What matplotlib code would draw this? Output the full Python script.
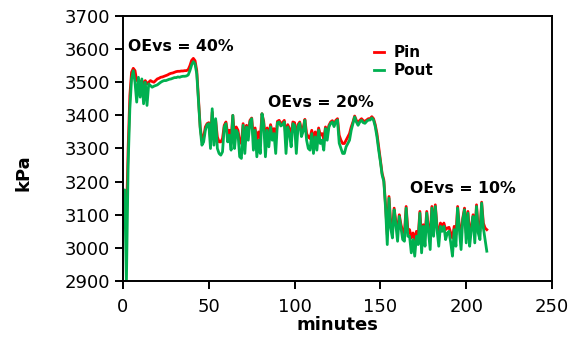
import matplotlib
matplotlib.use('Agg')
import matplotlib.pyplot as plt

# time in minutes (one reading per minute)
minutes = list(range(0, 213))

# inlet pressure, kPa
pin = [3060, 3065, 3080, 3300, 3460, 3530, 3542, 3535, 3505, 3505,
       3500, 3505, 3495, 3505, 3495, 3500, 3505, 3502, 3500, 3505,
       3510, 3512, 3515, 3516, 3518, 3520, 3522, 3525, 3527, 3528,
       3530, 3532, 3533, 3533, 3534, 3534, 3535, 3535, 3538, 3550,
       3566, 3572, 3565, 3535, 3450, 3365, 3325, 3335, 3365, 3375,
       3378, 3330, 3410, 3340, 3385, 3335, 3320, 3320, 3330, 3370,
       3380, 3345, 3355, 3330, 3400, 3335, 3365, 3355, 3320, 3315,
       3375, 3325, 3370, 3350, 3385, 3392, 3335, 3362, 3325, 3350,
       3330, 3405, 3382, 3325, 3362, 3340, 3372, 3350, 3360, 3330,
       3382, 3385, 3375, 3378, 3385, 3330, 3372, 3360, 3340, 3380,
       3378, 3330, 3372, 3380, 3355, 3362, 3388, 3345, 3335, 3330,
       3355, 3325, 3350, 3330, 3362, 3340, 3345, 3330, 3365, 3345,
       3370, 3380, 3384, 3372, 3385, 3390, 3340, 3325, 3315, 3315,
       3325, 3335, 3345, 3365, 3380, 3398, 3385, 3378, 3385, 3390,
       3384, 3382, 3386, 3390, 3390, 3396, 3390, 3372, 3345, 3305,
       3265, 3225, 3205, 3130, 3040, 3155, 3075, 3055, 3120, 3080,
       3050, 3100, 3070, 3050, 3045, 3125, 3055, 3055, 3030, 3045,
       3025, 3050, 3035, 3110, 3030, 3070, 3040, 3110, 3060, 3035,
       3125, 3055, 3130, 3065, 3045, 3075, 3065, 3075, 3055, 3060,
       3062, 3045, 3030, 3065, 3040, 3125, 3065, 3040, 3090, 3120,
       3045, 3110, 3040, 3065, 3100, 3045, 3130, 3060, 3050, 3138,
       3075, 3060, 3055]

# outlet pressure, kPa
pout = [3070, 3175, 2895, 3250, 3420, 3510, 3535, 3500, 3440, 3515,
        3455, 3510, 3435, 3500, 3430, 3495, 3490, 3485, 3488, 3490,
        3492, 3496, 3500, 3503, 3505, 3505, 3507, 3509, 3510, 3512,
        3514, 3514, 3516, 3515, 3517, 3518, 3518, 3519, 3522, 3535,
        3552, 3562, 3555, 3525, 3440, 3360, 3310, 3320, 3355, 3372,
        3375, 3300, 3420, 3310, 3390, 3300, 3285, 3280, 3290, 3365,
        3375, 3320, 3340, 3295, 3400, 3300, 3355, 3345, 3275, 3270,
        3370, 3285, 3365, 3325, 3380, 3390, 3295, 3355, 3275, 3325,
        3285, 3405, 3375, 3275, 3355, 3305, 3365, 3325, 3345, 3285,
        3378, 3380, 3368, 3372, 3380, 3285, 3365, 3345, 3305, 3375,
        3370, 3285, 3366, 3376, 3336, 3352, 3385, 3325, 3300, 3295,
        3345, 3285, 3335, 3295, 3355, 3315, 3325, 3295, 3360, 3325,
        3365, 3376, 3380, 3366, 3381, 3386, 3316, 3300, 3285, 3285,
        3305, 3315, 3325, 3355, 3375, 3395, 3380, 3370, 3380, 3385,
        3378, 3376, 3382, 3386, 3386, 3392, 3386, 3366, 3335, 3295,
        3260, 3220, 3200, 3120, 3010, 3150, 3060, 3030, 3115, 3070,
        3020, 3095, 3060, 3025, 3020, 3120, 3035, 3035, 2985, 3025,
        2975, 3035, 3010, 3105, 2985, 3065, 3005, 3105, 3050, 2995,
        3120, 3035, 3125, 3055, 3005, 3065, 3050, 3065, 3025, 3045,
        3050, 3015, 2975, 3055, 3005, 3120, 3055, 2995, 3085, 3115,
        3015, 3105, 3005, 3055, 3095, 3015, 3125, 3045, 3025, 3135,
        3060, 3025, 2990]

# OEvs labels and where they sit (minutes, kPa)
oevs_labels = ['OEvs = 40%', 'OEvs = 20%', 'OEvs = 10%']
oevs_x = [2.9, 84.5, 167.2]
oevs_y = [3609, 3439, 3178]

fig = plt.figure(figsize=(5.87, 3.40), dpi=100)
ax = fig.add_axes([0.2095, 0.1735, 0.7309, 0.7795])

ax.plot(minutes, pin, color='#FF0000', lw=2.0, label='Pin')
ax.plot(minutes, pout, color='#00B050', lw=2.0, label='Pout')

for txt, x, y in zip(oevs_labels, oevs_x, oevs_y):
    ax.text(x, y, txt, fontsize=11.3, fontweight='bold', va='center', ha='left')

ax.set_xlim(0, 250)
ax.set_ylim(2900, 3700)
ax.set_xticks(range(0, 251, 50))
ax.set_yticks(range(2900, 3701, 100))

for s in ax.spines.values():
    s.set_linewidth(1.4)
ax.tick_params(direction='out', length=6, width=1.4, labelsize=13)
ax.tick_params(axis='x', pad=6)

ax.set_xlabel('minutes', fontsize=13, fontweight='bold', labelpad=0)
ax.set_ylabel('kPa', fontsize=13, fontweight='bold')
ax.yaxis.set_label_coords(-0.21, 0.41)

leg = ax.legend(loc='upper left', bbox_to_anchor=(0.552, 0.942), frameon=False,
                handlelength=0.7, handletextpad=0.6, labelspacing=0.2,
                prop={'weight': 'bold', 'size': 11})

fig.savefig('out.png', dpi=100)
